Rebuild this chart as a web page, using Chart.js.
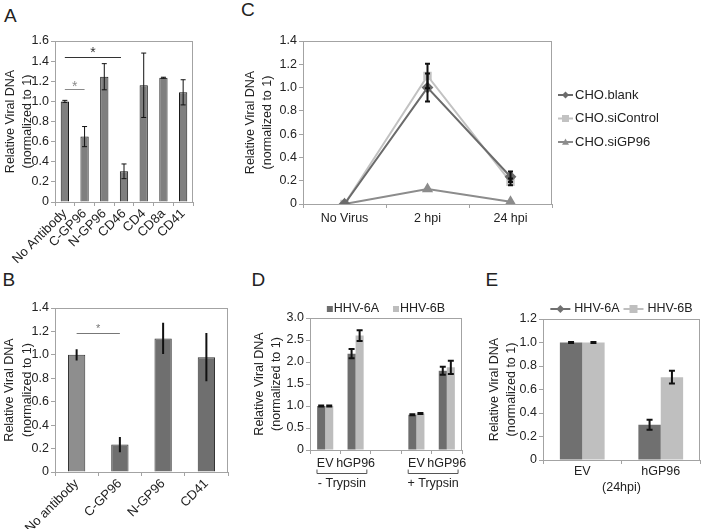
<!DOCTYPE html>
<html>
<head>
<meta charset="utf-8">
<script src="https://cdn.jsdelivr.net/npm/chart.js@4.4.0/dist/chart.umd.min.js"></script>
<style>
  body { margin: 0; background: #fff; width: 704px; height: 529px; position: relative; overflow: hidden; font-family: "Liberation Sans", Arial, sans-serif; }
  canvas { position: absolute; }
  .letter { position: absolute; font-size: 19px; line-height: 19px; color: #222; }
</style>
</head>
<body>
<div class="letter" style="left:4px;top:5.5px">A</div>
<div class="letter" style="left:241px;top:-0.5px">C</div>
<div class="letter" style="left:2.5px;top:269.5px">B</div>
<div class="letter" style="left:251.5px;top:269.5px">D</div>
<div class="letter" style="left:485.5px;top:269.5px">E</div>

<canvas id="chartA" width="240" height="270" style="left:0;top:0"></canvas>
<canvas id="chartC" width="464" height="270" style="left:240px;top:0"></canvas>
<canvas id="chartB" width="240" height="259" style="left:0;top:270px"></canvas>
<canvas id="chartD" width="245" height="259" style="left:245px;top:270px"></canvas>
<canvas id="chartE" width="219" height="259" style="left:485px;top:270px"></canvas>

<script>
// panel A - antibody blocking
var aLabels = ["No Antibody", "C-GP96", "N-GP96", "CD46", "CD4", "CD8a", "CD41"];
var aValues = [1.0, 0.65, 1.245, 0.305, 1.16, 1.235, 1.09];
var aErrors = [0.01, 0.1, 0.13, 0.073, 0.32, 0.005, 0.125];
var aSig = [[0, 1, 1.123], [0, 3, 1.445]];

// panel B
var bLabels = ["No antibody", "C-GP96", "N-GP96", "CD41"];
var bValues = [1.0, 0.234, 1.14, 0.98];
var bErrors = [0.04, 0.057, 0.125, 0.197];
var bSig = [[0, 1, 1.186]];

// panel C - time course
var cLabels = ["No Virus", "2 hpi", "24 hpi"];
var cBlank = [0, 1.0, 0.234];
var cBlankErr = [0, 0.12, 0.045];
var cSiControl = [0, 1.1, 0.19];
var cSiControlErr = [0, 0.105, 0.03];
var cSiGP96 = [0, 0.129, 0.02];

// panel D
var dLabels = ["EV", "hGP96", "", "EV", "hGP96"];
var dGroups = ["- Trypsin", "+ Trypsin"];
var d6A = [1.0, 2.19, null, 0.8, 1.8];
var d6AErr = [0.01, 0.105, null, 0.01, 0.09];
var d6B = [1.0, 2.6, null, 0.83, 1.88];
var d6BErr = [0.01, 0.12, null, 0.01, 0.15];

// panel E
var eLabels = ["EV", "hGP96"];
var e6A = [1.0, 0.3];
var e6AErr = [0.005, 0.043];
var e6B = [1.0, 0.705];
var e6BErr = [0.005, 0.054];

var fam = '"Liberation Sans", Arial, sans-serif';
var yTitle = ["Relative Viral DNA", "(normalized to 1)"];
var frameColor = "#a3a3a3";
Chart.defaults.font.family = fam;
Chart.defaults.font.size = 12;
Chart.defaults.color = "#222";
Chart.defaults.animation = false;

function marker(ctx, style, cx, cy, r, color) {
  ctx.fillStyle = color;
  ctx.beginPath();
  if (style === "rectRot") {
    ctx.moveTo(cx, cy - r); ctx.lineTo(cx + r, cy); ctx.lineTo(cx, cy + r); ctx.lineTo(cx - r, cy);
  } else if (style === "triangle") {
    ctx.moveTo(cx, cy - r); ctx.lineTo(cx + r, cy + r * 0.8); ctx.lineTo(cx - r, cy + r * 0.8);
  } else {
    ctx.rect(cx - r, cy - r, 2 * r, 2 * r);
  }
  ctx.closePath();
  ctx.fill();
}

// frame, error bars, significance marks, legends, group brackets
var extras = {
  id: "extras",
  afterDatasetsDraw: function (chart, args, o) {
    var ctx = chart.ctx, a = chart.chartArea, xs = chart.scales.x, ys = chart.scales.y;
    ctx.save();
    ctx.strokeStyle = frameColor;
    ctx.lineWidth = 1;
    ctx.strokeRect(Math.round(a.left) + 0.5, Math.round(a.top) + 0.5,
      Math.round(a.right - a.left) - 1, Math.round(a.bottom - a.top));

    chart.data.datasets.forEach(function (ds, di) {
      if (!ds.errors) return;
      var meta = chart.getDatasetMeta(di);
      ds.errors.forEach(function (e, i) {
        var v = ds.data[i];
        if (v == null || !e) return;
        var px = meta.data[i].x;
        var t = ys.getPixelForValue(v + e), b = ys.getPixelForValue(v - e);
        var c = o.cap / 2;
        ctx.strokeStyle = "#111";
        ctx.lineWidth = o.errWidth;
        ctx.beginPath();
        ctx.moveTo(px, t); ctx.lineTo(px, b);
        if (c) {
          ctx.moveTo(px - c, t); ctx.lineTo(px + c, t);
          ctx.moveTo(px - c, b); ctx.lineTo(px + c, b);
        }
        ctx.stroke();
      });
    });

    (o.sig || []).forEach(function (s, k) {
      var st = o.sigStyle[k];
      var x0 = xs.getPixelForValue(s[0]), x1 = xs.getPixelForValue(s[1]) - (st.trim || 0);
      var yy = Math.round(ys.getPixelForValue(s[2])) + 0.5;
      ctx.strokeStyle = st.color;
      ctx.lineWidth = 1;
      ctx.beginPath(); ctx.moveTo(x0, yy); ctx.lineTo(x1, yy); ctx.stroke();
      ctx.fillStyle = st.color;
      ctx.font = st.size + "px " + fam;
      ctx.textAlign = "center";
      ctx.textBaseline = "alphabetic";
      ctx.fillText("*", (x0 + x1) / 2, yy + st.lift);
    });

    var L = o.legend;
    if (L) {
      ctx.font = L.font + "px " + fam;
      ctx.textBaseline = "middle";
      ctx.textAlign = "left";
      var items = chart.data.datasets.map(function (ds) {
        return { text: ds.label, color: ds.borderColor || ds.backgroundColor, style: ds.pointStyle };
      });
      var drawItem = function (it, x0, cy) {
        if (L.line) {
          ctx.strokeStyle = it.color; ctx.lineWidth = 2;
          ctx.beginPath(); ctx.moveTo(x0, cy); ctx.lineTo(x0 + L.lineLen, cy); ctx.stroke();
        }
        marker(ctx, it.style, x0 + L.lineLen / 2, cy, L.r, it.color);
        ctx.fillStyle = "#222";
        ctx.fillText(it.text, x0 + L.lineLen + L.textGap, cy);
      };
      if (L.layout === "column") {
        items.forEach(function (it, i) {
          var cy = (a.top + a.bottom) / 2 + (i - (items.length - 1) / 2) * L.gap + L.dy;
          drawItem(it, a.right + L.dx, cy);
        });
      } else {
        var widths = items.map(function (it) { return L.lineLen + L.textGap + ctx.measureText(it.text).width; });
        var total = widths.reduce(function (p, w) { return p + w; }, 0) + L.gap * (items.length - 1);
        var x = (a.left + a.right) / 2 - total / 2, cy = a.top + L.dy;
        items.forEach(function (it, i) { drawItem(it, x, cy); x += widths[i] + L.gap; });
      }
    }

    if (o.groups) {
      var cw = (xs.right - xs.left) / xs.ticks.length;
      o.groups.forEach(function (g, k) {
        var i0 = o.groupStarts[k];
        var x0 = xs.getPixelForValue(i0) - 0.27 * cw, x1 = xs.getPixelForValue(i0 + 1) + 0.37 * cw;
        var by = Math.round(a.bottom + 23) + 0.5;
        ctx.strokeStyle = "#555"; ctx.lineWidth = 1;
        ctx.beginPath();
        ctx.moveTo(x0, by - 4); ctx.lineTo(x0, by); ctx.lineTo(x1, by); ctx.lineTo(x1, by - 4);
        ctx.stroke();
        ctx.fillStyle = "#222";
        ctx.font = "12.5px " + fam;
        ctx.textAlign = "center";
        ctx.textBaseline = "middle";
        ctx.fillText(g, (x0 + x1) / 2, a.bottom + 34);
      });
    }
    ctx.restore();
  }
};

function yAxis(max, step, w, titlePad) {
  return {
    min: 0, max: max,
    afterFit: function (s) { s.width = w; },
    border: { display: false },
    grid: { drawOnChartArea: false, tickLength: 4, color: frameColor },
    ticks: { stepSize: step, padding: 2, font: { size: 12.5 }, callback: function (v) { return v === 0 ? "0" : v.toFixed(1); } },
    title: { display: true, text: yTitle, font: { size: 12.5, lineHeight: 1.4 }, padding: { top: titlePad, bottom: 0 } }
  };
}

function xAxis(h, more) {
  var ax = {
    afterFit: function (s) { s.height = h; },
    border: { display: false },
    grid: { drawOnChartArea: false, tickLength: 4, color: frameColor, offset: true },
    ticks: { autoSkip: false, padding: 2 }
  };
  for (var k in more) ax[k] = more[k];
  return ax;
}

function baseOptions(pad, xs, ys, extra) {
  return {
    responsive: false,
    layout: { padding: pad },
    plugins: { legend: { display: false }, tooltip: { enabled: false }, extras: extra },
    scales: { x: xs, y: ys }
  };
}

var rotTicks = { autoSkip: false, padding: 0, minRotation: 45, maxRotation: 45, font: { size: 13 } };

new Chart("chartA", {
  type: "bar",
  data: {
    labels: aLabels,
    datasets: [{ data: aValues, errors: aErrors, backgroundColor: "#7f7f7f", borderColor: "#1a1a1a", borderWidth: 1,
      barPercentage: 0.42, categoryPercentage: 1 }]
  },
  options: baseOptions({ top: 41, right: 47, left: 0, bottom: 0 },
    xAxis(68, { ticks: rotTicks }), yAxis(1.6, 0.2, 55, 1.5),
    { errWidth: 1, cap: 5, sig: aSig, sigStyle: [{ color: "#8a8a8a", size: 14, lift: 1 }, { color: "#333", size: 14, lift: -1, trim: 3 }] }),
  plugins: [extras]
});

new Chart("chartB", {
  type: "bar",
  data: {
    labels: bLabels,
    datasets: [{ data: bValues, errors: bErrors, backgroundColor: ["#8e8e8e", "#6f6f6f", "#6f6f6f", "#6f6f6f"],
      borderColor: "#333", borderWidth: 1, barPercentage: 0.4, categoryPercentage: 1 }]
  },
  options: baseOptions({ top: 38, right: 12, left: 0, bottom: 0 },
    xAxis(57, { ticks: rotTicks }), yAxis(1.4, 0.2, 55, 1),
    { errWidth: 2, cap: 2, sig: bSig, sigStyle: [{ color: "#777", size: 11, lift: -2 }] }),
  plugins: [extras]
});

new Chart("chartC", {
  type: "line",
  data: {
    labels: cLabels,
    datasets: [
      { label: "CHO.blank", data: cBlank, errors: cBlankErr, borderColor: "#6b6b6b", backgroundColor: "#6b6b6b",
        pointStyle: "rectRot", pointRadius: 4.5, borderWidth: 2 },
      { label: "CHO.siControl", data: cSiControl, errors: cSiControlErr, borderColor: "#c2c2c2", backgroundColor: "#c2c2c2",
        pointStyle: "rect", pointRadius: 4.5, borderWidth: 2 },
      { label: "CHO.siGP96", data: cSiGP96, borderColor: "#8c8c8c", backgroundColor: "#8c8c8c",
        pointStyle: "triangle", pointRadius: 4.5, borderWidth: 2 }
    ]
  },
  options: baseOptions({ top: 41, right: 152, left: 0, bottom: 0 },
    xAxis(66, { offset: true, ticks: { autoSkip: false, padding: 3, font: { size: 12.5 } } }), yAxis(1.4, 0.2, 63, 1.5),
    { errWidth: 2, cap: 5, legend: { layout: "column", font: 13, line: true, lineLen: 15, textGap: 2, r: 3.5, gap: 23.5, dx: 6, dy: -4 } }),
  plugins: [extras]
});

new Chart("chartD", {
  type: "bar",
  data: {
    labels: dLabels,
    datasets: [
      { label: "HHV-6A", data: d6A, errors: d6AErr, backgroundColor: "#6d6d6d", pointStyle: "rect",
        barPercentage: 1, categoryPercentage: 0.53 },
      { label: "HHV-6B", data: d6B, errors: d6BErr, backgroundColor: "#bdbdbd", pointStyle: "rect",
        barPercentage: 1, categoryPercentage: 0.53 }
    ]
  },
  options: baseOptions({ top: 48, right: 28, left: 0, bottom: 0 },
    xAxis(79, { ticks: { autoSkip: false, padding: 2, maxRotation: 0, font: { size: 12.5 } } }), yAxis(3.0, 0.5, 65, 5.5),
    { errWidth: 2, cap: 6, groups: dGroups, groupStarts: [0, 3],
      legend: { layout: "row", font: 12.5, line: false, lineLen: 6, textGap: 1, r: 3, gap: 14, dy: -9 } }),
  plugins: [extras]
});

var eX = xAxis(69, { ticks: { autoSkip: false, padding: 0, maxRotation: 0, font: { size: 12.5 } },
  title: { display: true, text: "(24hpi)", font: { size: 12.5 }, padding: { top: 0, bottom: 34 } } });
new Chart("chartE", {
  type: "bar",
  data: {
    labels: eLabels,
    datasets: [
      { label: "HHV-6A", data: e6A, errors: e6AErr, backgroundColor: "#707070", pointStyle: "rectRot",
        barPercentage: 1, categoryPercentage: 0.57 },
      { label: "HHV-6B", data: e6B, errors: e6BErr, backgroundColor: "#bfbfbf", pointStyle: "rect",
        barPercentage: 1, categoryPercentage: 0.57 }
    ]
  },
  options: baseOptions({ top: 49, right: 4, left: 0, bottom: 0 },
    eX, yAxis(1.2, 0.2, 58, 0.5),
    { errWidth: 2, cap: 6, legend: { layout: "row", font: 12.5, line: true, lineLen: 20, textGap: 4, r: 4, gap: 4, dy: -10 } }),
  plugins: [extras]
});
</script>
</body>
</html>
